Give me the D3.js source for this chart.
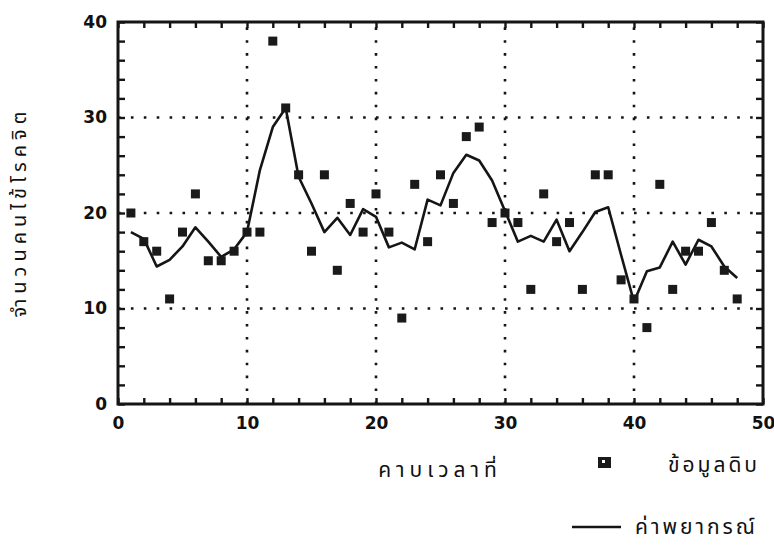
<!DOCTYPE html>
<html>
<head>
<meta charset="utf-8">
<script src="https://cdn.jsdelivr.net/npm/d3@7"></script>
<style>
  html, body { margin: 0; padding: 0; background: #fff; }
  svg { display: block; }
  .tick text { font-family: "DejaVu Sans", sans-serif; font-weight: bold; font-size: 17px; fill: #111; }
  .thai { font-family: "Noto Sans Thai", "Noto Sans", "DejaVu Sans", sans-serif; fill: #111; }
</style>
</head>
<body>
<script>
// ---- data ----
const periods = [1,2,3,4,5,6,7,8,9,10,11,12,13,14,15,16,17,18,19,20,21,22,23,24,25,26,27,28,29,30,31,32,33,34,35,36,37,38,39,40,41,42,43,44,45,46,47,48];
const rawData = [20,17,16,11,18,22,15,15,16,18,18,38,31,24,16,24,14,21,18,22,18,9,23,17,24,21,28,29,19,20,19,12,22,17,19,12,24,24,13,11,8,23,12,16,16,19,14,11];
const forecast = [18,17.3,14.4,15.1,16.5,18.5,17,15.4,16.2,18,24.5,29,31,23.8,21,18,19.5,17.7,20.4,19.6,16.4,16.9,16.2,21.4,20.8,24.2,26.1,25.5,23.4,20.2,17,17.6,17,19.3,16,18,20.1,20.6,15.6,10.7,13.9,14.3,17,14.6,17.2,16.5,14.4,13.2];
const xTicks = [0,2,4,6,8,10,12,14,16,18,20,22,24,26,28,30,32,34,36,38,40,42,44,46,48,50];
const yTicks = [0,2,4,6,8,10,12,14,16,18,20,22,24,26,28,30,32,34,36,38,40];
const xLabels = [0,10,20,30,40,50];
const yLabels = [0,10,20,30,40];
const xTitle = "คาบเวลาที่";
const yTitle = "จำนวนคนไข้โรคจิต";
const legendRaw = "ข้อมูลดิบ";
const legendFc = "ค่าพยากรณ์";

// ---- layout ----
const W = 774, H = 545;
const L = 118, R = 763, T = 22, B = 404;
const ink = "#151515";

const svg = d3.select("body").append("svg").attr("width", W).attr("height", H);
const x = d3.scaleLinear().domain([0, 50]).range([L, R]);
const y = d3.scaleLinear().domain([0, 40]).range([B, T]);

// grid (dotted)
const grid = svg.append("g").attr("stroke", ink).attr("stroke-width", 2.6).attr("stroke-dasharray", "2.6,10.3");
grid.selectAll(".gx").data([10,20,30,40]).join("line")
  .attr("x1", d => x(d)).attr("x2", d => x(d)).attr("y1", B).attr("y2", T);
grid.selectAll(".gy").data([10,20,30]).join("line")
  .attr("x1", L).attr("x2", R).attr("y1", d => y(d)).attr("y2", d => y(d));

// axes with inward ticks
function styleAxis(g) {
  g.select(".domain").remove();
  g.selectAll(".tick line").attr("stroke", ink).attr("stroke-width", 2.4);
}
const fmtX = d => xLabels.includes(d) ? d : "";
const fmtY = d => yLabels.includes(d) ? d : "";

svg.append("g").attr("transform", `translate(0,${B})`)
  .call(d3.axisBottom(x).tickValues(xTicks).tickSize(-6).tickPadding(13).tickFormat(fmtX))
  .call(styleAxis);
svg.append("g").attr("transform", `translate(0,${T})`)
  .call(d3.axisTop(x).tickValues(xTicks).tickSize(-6).tickFormat(""))
  .call(styleAxis);
svg.append("g").attr("transform", `translate(${L},0)`)
  .call(d3.axisLeft(y).tickValues(yTicks).tickSize(-7).tickPadding(11).tickFormat(fmtY))
  .call(styleAxis);
svg.append("g").attr("transform", `translate(${R},0)`)
  .call(d3.axisRight(y).tickValues(yTicks).tickSize(-7).tickFormat(""))
  .call(styleAxis);

// frame
svg.append("rect").attr("x", L).attr("y", T).attr("width", R - L).attr("height", B - T)
  .attr("fill", "none").attr("stroke", ink).attr("stroke-width", 3);

// forecast line
const line = d3.line().x((d, i) => x(periods[i])).y(d => y(d));
svg.append("path").datum(forecast).attr("d", line)
  .attr("fill", "none").attr("stroke", ink).attr("stroke-width", 2.6).attr("stroke-linejoin", "round");

// raw data squares
const s = 9;
svg.append("g").selectAll("rect").data(rawData).join("rect")
  .attr("x", (d, i) => x(periods[i]) - s / 2).attr("y", d => y(d) - s / 2)
  .attr("width", s).attr("height", s).attr("fill", "#1a1a1a");

// titles
svg.append("text").attr("class", "thai").attr("x", 440).attr("y", 477)
  .attr("text-anchor", "middle").attr("font-size", 21).attr("letter-spacing", 5).text(xTitle);
svg.append("text").attr("class", "thai")
  .attr("transform", "translate(26,212) rotate(-90)")
  .attr("text-anchor", "middle").attr("font-size", 20).attr("letter-spacing", 5).text(yTitle);

// legend
svg.append("rect").attr("x", 598).attr("y", 457).attr("width", 13).attr("height", 11).attr("fill", "#1a1a1a");
svg.append("rect").attr("x", 602).attr("y", 460).attr("width", 3).attr("height", 3).attr("fill", "#fff");
svg.append("text").attr("class", "thai").attr("x", 668).attr("y", 472).attr("font-size", 21).attr("letter-spacing", 3).text(legendRaw);
svg.append("line").attr("x1", 572).attr("x2", 621).attr("y1", 527).attr("y2", 527)
  .attr("stroke", ink).attr("stroke-width", 2.6);
svg.append("text").attr("class", "thai").attr("x", 635).attr("y", 534).attr("font-size", 21).attr("letter-spacing", 3).text(legendFc);
</script>
</body>
</html>
